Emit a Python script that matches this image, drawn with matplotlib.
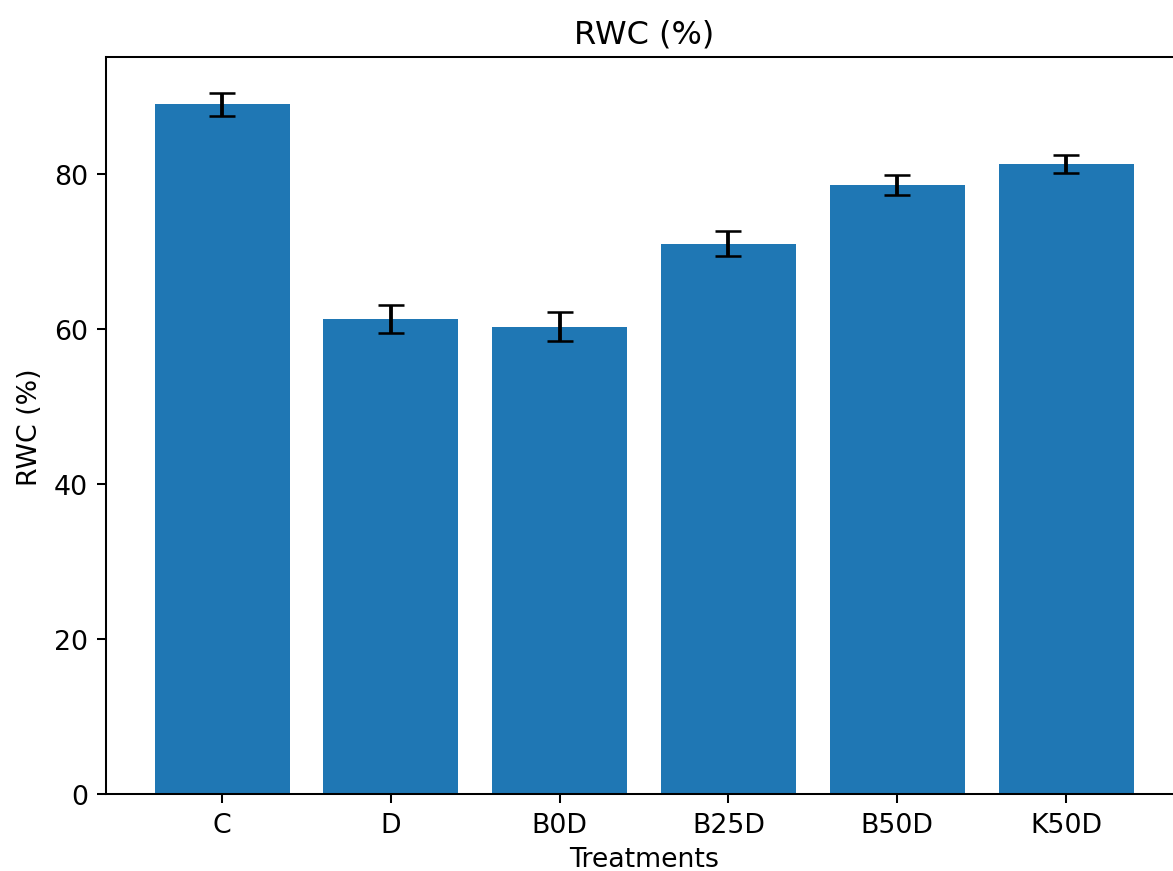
import matplotlib
matplotlib.use("Agg")
import matplotlib.pyplot as plt

treatments = ["C", "D", "B0D", "B25D", "B50D", "K50D"]
rwc_mean = [89.0, 61.3, 60.3, 71.0, 78.6, 81.3]
rwc_err = [1.5, 1.85, 1.85, 1.6, 1.3, 1.15]

plt.rcParams["font.size"] = 10.5

fig, ax = plt.subplots(figsize=(6.4, 4.757), dpi=183.3)
ax.bar(treatments, rwc_mean, yerr=rwc_err, capsize=5, color="#1f77b4")

ax.set_title("RWC (%)")
ax.set_xlabel("Treatments", labelpad=3)
ax.set_ylabel("RWC (%)")

# reference is cropped on the right, so the right spine falls outside
plt.subplots_adjust(left=0.09, right=1.008, top=0.933, bottom=0.088)
plt.savefig("out.png")
